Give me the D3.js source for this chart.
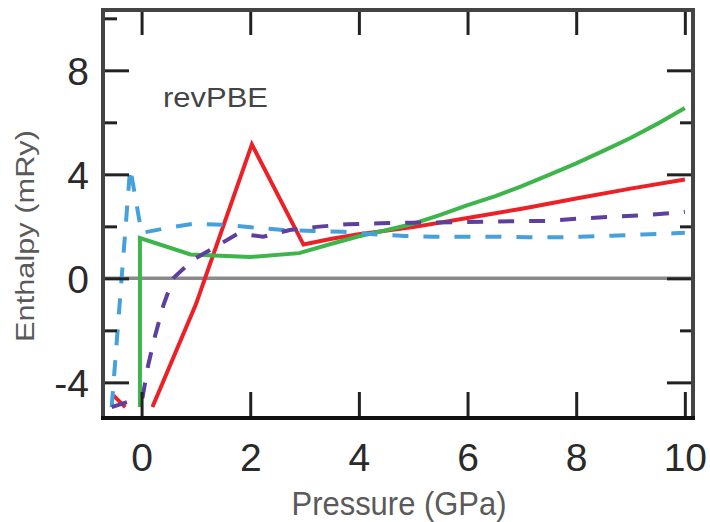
<!DOCTYPE html>
<html>
<head>
<meta charset="utf-8">
<script src="https://cdn.jsdelivr.net/npm/d3@7"></script>
<style>
  body { margin: 0; background: #fff; }
  text { font-family: "Liberation Sans", Arial, sans-serif; }
</style>
</head>
<body>
<script>
// enthalpy vs pressure, revPBE
const xTicks = [0, 2, 4, 6, 8, 10];
const yMajor = [-4, 0, 4, 8];
const yMinor = [-2, 2, 6, 10];

// red solid (null = gap, line leaves the window)
const redP = [-0.52, -0.3, null, 0.2, 1.0, 2.03, 2.98, 3.5, 4, 5, 6, 7, 8, 9, 10];
const redH = [-4.5, -4.95, null, -4.95, -1.0, 5.15, 1.3, 1.52, 1.7, 1.97, 2.32, 2.68, 3.07, 3.45, 3.8];

// green solid
const greenP = [-0.03, -0.03, 0.9, 2.0, 2.9, 3.5, 4, 4.5, 5, 5.5, 6, 6.5, 7, 7.5, 8, 8.5, 9, 9.5, 10];
const greenH = [-4.95, 1.55, 0.92, 0.82, 0.97, 1.33, 1.62, 1.85, 2.1, 2.44, 2.82, 3.15, 3.55, 3.98, 4.42, 4.9, 5.4, 5.95, 6.55];

// light blue dashed
const blueP = [-0.55, -0.21, 0.0, 0.43, 0.95, 1.5, 2.06, 2.61, 3.16, 3.71, 4.27, 4.85, 5.4, 6.0, 6.54, 7.12, 7.7, 8.07, 8.65, 9.23, 9.8, 10];
const blueH = [-4.95, 4.25, 1.75, 1.92, 2.1, 2.06, 1.96, 1.86, 1.82, 1.79, 1.7, 1.63, 1.6, 1.6, 1.6, 1.58, 1.58, 1.6, 1.64, 1.69, 1.73, 1.75];

// purple dashed
const purpleP = [-0.55, -0.25, 0.02, 0.12, 0.25, 0.4, 0.58, 0.95, 1.35, 1.78, 2.24, 2.73, 3.22, 3.78, 4.39, 5, 6, 7, 7.5, 8.13, 8.68, 9.26, 9.82, 10];
const purpleH = [-4.95, -4.75, -4.55, -3.35, -2.2, -1.05, 0, 0.72, 1.2, 1.73, 1.6, 1.86, 1.98, 2.08, 2.12, 2.14, 2.17, 2.2, 2.21, 2.31, 2.37, 2.43, 2.52, 2.56];

const W = 710, H = 522;
const plotL = 103, plotR = 693, plotT = 10, plotB = 418;

const svg = d3.select("body").append("svg")
  .attr("width", W)
  .attr("height", H);

const x = d3.scaleLinear().domain([-0.71, 10.15]).range([plotL, plotR]);
const y = d3.scaleLinear().domain([-5.37, 10.32]).range([plotB, plotT]);

// zero line
svg.append("line")
  .attr("x1", plotL).attr("x2", plotR)
  .attr("y1", y(0)).attr("y2", y(0))
  .attr("stroke", "#8a8a8a")
  .attr("stroke-width", 3.5);

const line = d3.line()
  .defined(d => d[0] !== null)
  .x(d => x(d[0]))
  .y(d => y(d[1]));

function zip(px, py) { return px.map((p, i) => [p, py[i]]); }

const series = [
  {p: redP, h: redH, color: "#ec2027", dash: null},
  {p: greenP, h: greenH, color: "#3db54a", dash: null},
  {p: blueP, h: blueH, color: "#46a0dc", dash: "16,15"},
  {p: purpleP, h: purpleH, color: "#5d3f9e", dash: "16,15"}
];

series.forEach(s => {
  svg.append("path")
    .datum(zip(s.p, s.h))
    .attr("fill", "none")
    .attr("stroke", s.color)
    .attr("stroke-width", 4)
    .attr("stroke-dasharray", s.dash)
    .attr("d", line);
});

// axes, ticks inside
function clean(g) { g.select(".domain").remove(); }
const plain = d => String(d);   // plain hyphen for negatives

const gx = svg.append("g")
  .attr("transform", `translate(0,${plotB})`)
  .call(d3.axisBottom(x).tickValues(xTicks).tickSize(-26).tickPadding(25.5).tickFormat(plain))
  .call(clean);

svg.append("g")
  .attr("transform", `translate(0,${plotT})`)
  .call(d3.axisTop(x).tickValues(xTicks).tickSize(-25).tickFormat(""))
  .call(clean);

const gy = svg.append("g")
  .attr("transform", `translate(${plotL},0)`)
  .call(d3.axisLeft(y).tickValues(yMajor).tickSize(-26).tickPadding(14).tickFormat(plain))
  .call(clean);

svg.append("g")
  .attr("transform", `translate(${plotL},0)`)
  .call(d3.axisLeft(y).tickValues(yMinor).tickSize(-14).tickFormat(""))
  .call(clean);

svg.append("g")
  .attr("transform", `translate(${plotR},0)`)
  .call(d3.axisRight(y).tickValues(yMajor).tickSize(-26).tickFormat(""))
  .call(clean);

svg.append("g")
  .attr("transform", `translate(${plotR},0)`)
  .call(d3.axisRight(y).tickValues(yMinor.slice(0, 3)).tickSize(-13).tickFormat(""))
  .call(clean);

svg.selectAll(".tick line")
  .attr("stroke", "#222")
  .attr("stroke-width", 3);

[gx, gy].forEach(g => g.selectAll("text")
  .attr("font-size", 39)
  .attr("fill", "#2a2a2a")
  .style("font-family", "Liberation Sans, Arial, sans-serif"));
gy.selectAll("text").attr("dy", "0.36em");

// frame
svg.append("rect")
  .attr("x", plotL).attr("y", plotT)
  .attr("width", plotR - plotL).attr("height", plotB - plotT)
  .attr("fill", "none")
  .attr("stroke", "#444")
  .attr("stroke-width", 4);
svg.append("line")
  .attr("x1", plotL - 2).attr("x2", plotR + 2)
  .attr("y1", plotB).attr("y2", plotB)
  .attr("stroke", "#111")
  .attr("stroke-width", 4);

// titles
svg.append("text")
  .attr("x", (plotL + plotR) / 2 + 1)
  .attr("y", 515)
  .attr("text-anchor", "middle")
  .attr("font-size", 33)
  .attr("fill", "#5a5a5a")
  .attr("textLength", 215)
  .attr("lengthAdjust", "spacingAndGlyphs")
  .text("Pressure (GPa)");

svg.append("text")
  .attr("transform", "translate(34,236) rotate(-90)")
  .attr("text-anchor", "middle")
  .attr("font-size", 26)
  .attr("fill", "#5a5a5a")
  .attr("textLength", 212)
  .attr("lengthAdjust", "spacingAndGlyphs")
  .text("Enthalpy (mRy)");

svg.append("text")
  .attr("x", 163)
  .attr("y", 107)
  .attr("font-size", 27)
  .attr("fill", "#444")
  .attr("textLength", 105)
  .attr("lengthAdjust", "spacingAndGlyphs")
  .text("revPBE");
</script>
</body>
</html>
